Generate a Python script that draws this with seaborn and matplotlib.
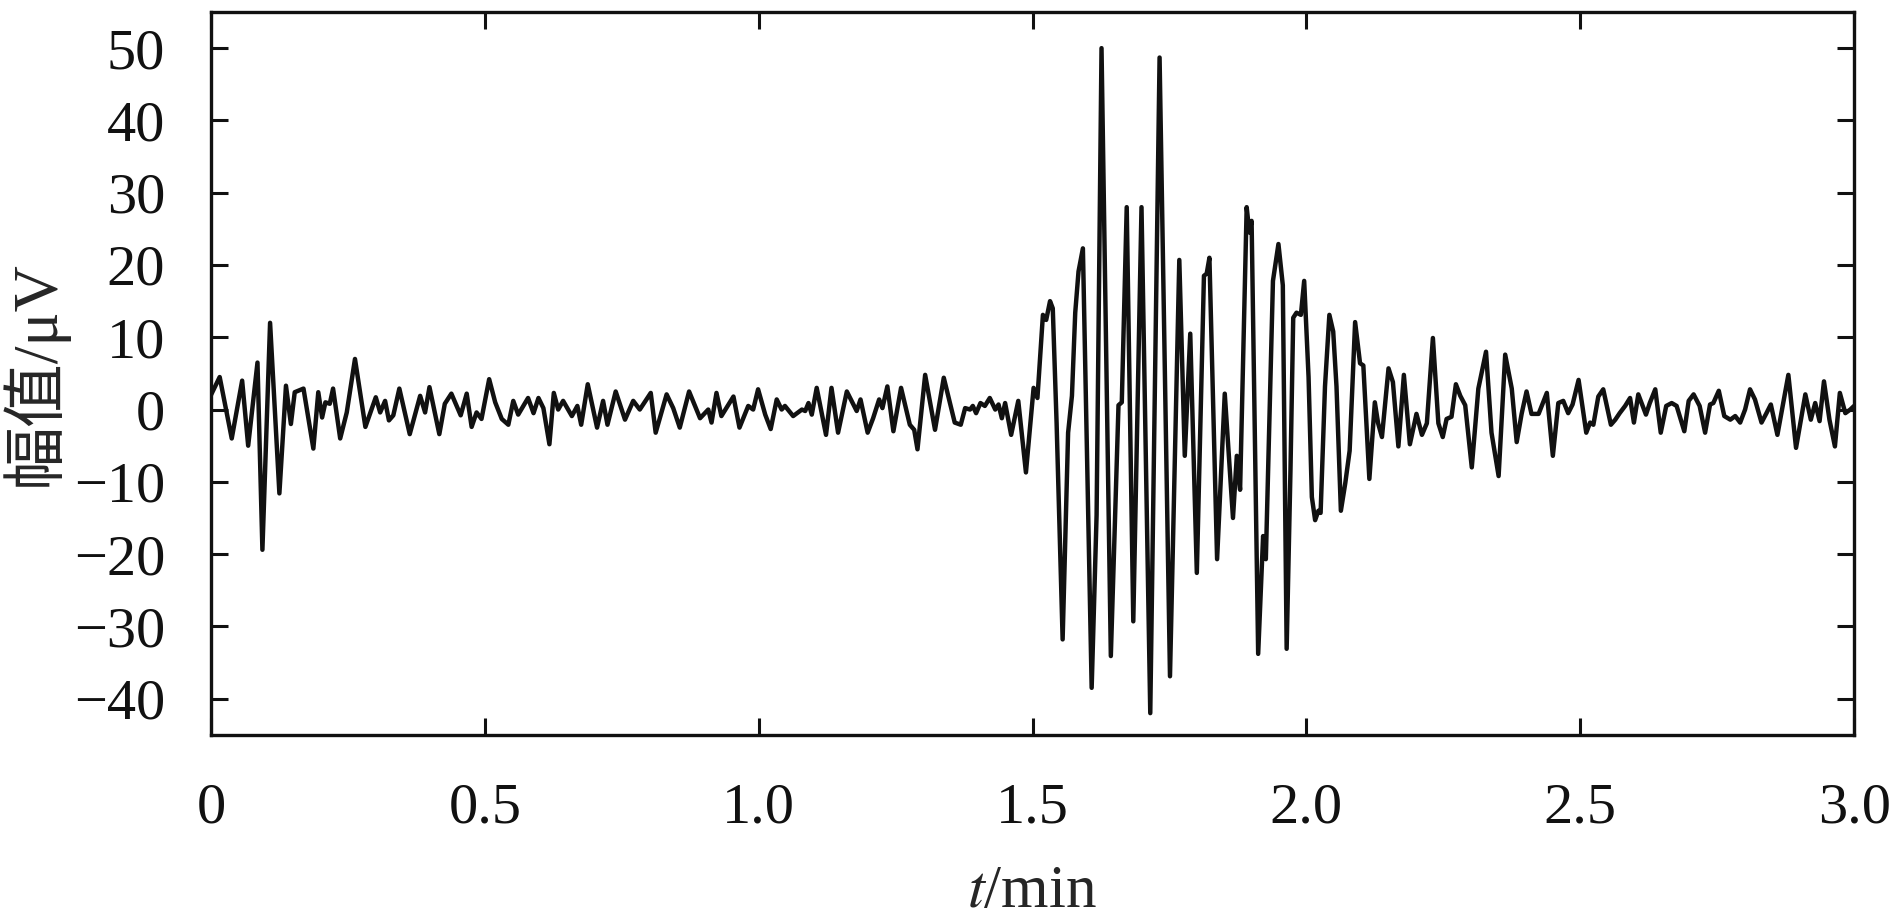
import numpy as np
import pandas as pd
import matplotlib
matplotlib.use("Agg")
import matplotlib.pyplot as plt
import seaborn as sns

# ============================
# Data (local peaks / troughs of the trace)
# ============================

t_quiet1 = [0.000, 0.016, 0.038, 0.057, 0.068, 0.085, 0.094, 0.108, 0.125, 0.137,
            0.146, 0.153, 0.169, 0.187, 0.196, 0.203, 0.209, 0.217, 0.223, 0.236,
            0.248, 0.263, 0.282, 0.301, 0.309, 0.318, 0.325, 0.333, 0.344, 0.363,
            0.382, 0.391, 0.399, 0.417, 0.427, 0.439, 0.456, 0.467, 0.476, 0.485,
            0.494, 0.508, 0.519, 0.531]
v_quiet1 = [2.0, 4.5, -4.0, 4.0, -5.0, 6.5, -19.4, 12.0, -11.6, 3.3,
            -2.0, 2.4, 2.9, -5.4, 2.4, -1.1, 1.0, 0.8, 2.9, -4.0,
            -0.4, 7.0, -2.4, 1.7, -0.4, 1.2, -1.5, -0.8, 2.9, -3.4,
            1.9, -0.4, 3.1, -3.4, 0.8, 2.2, -0.8, 2.2, -2.4, -0.4,
            -1.3, 4.2, 1.0, -1.3]

t_quiet2 = [0.543, 0.552, 0.561, 0.579, 0.589, 0.598, 0.607, 0.618, 0.626, 0.634,
            0.643, 0.659, 0.669, 0.676, 0.688, 0.705, 0.716, 0.724, 0.739, 0.756,
            0.771, 0.783, 0.803, 0.812, 0.832, 0.844, 0.856, 0.873, 0.893, 0.908,
            0.914, 0.923, 0.932, 0.954, 0.965, 0.981, 0.990, 0.999, 1.012, 1.022,
            1.033, 1.042, 1.048, 1.063]
v_quiet2 = [-2.1, 1.2, -0.7, 1.6, -0.5, 1.6, 0.2, -4.8, 2.3, 0.0,
            1.2, -0.9, 0.5, -2.1, 3.5, -2.5, 1.2, -2.1, 2.5, -1.4,
            1.2, 0.0, 2.3, -3.2, 2.1, 0.2, -2.5, 2.5, -1.2, 0.0,
            -1.8, 2.3, -0.9, 1.8, -2.5, 0.5, 0.0, 2.8, -0.7, -2.7,
            1.4, 0.0, 0.5, -0.9]

t_quiet3 = [1.079, 1.085, 1.091, 1.097, 1.106, 1.123, 1.133, 1.145, 1.161, 1.179,
            1.186, 1.199, 1.209, 1.220, 1.226, 1.235, 1.246, 1.260, 1.276, 1.284,
            1.290, 1.304, 1.322, 1.338, 1.358, 1.369, 1.377, 1.386, 1.391, 1.397,
            1.405, 1.413, 1.422, 1.432, 1.438, 1.444, 1.450, 1.461, 1.474, 1.488,
            1.502, 1.509]
v_quiet3 = [0.0, -0.2, 0.9, -0.7, 3.0, -3.5, 3.0, -3.2, 2.5, -0.2,
            1.4, -3.2, -1.2, 1.4, 0.2, 3.2, -3.0, 3.0, -2.1, -2.8,
            -5.5, 4.8, -2.8, 4.4, -1.8, -2.1, 0.2, 0.0, 0.5, -0.5,
            0.9, 0.5, 1.6, 0.0, 0.7, -1.2, 0.9, -3.5, 1.2, -8.7,
            3.0, 1.6]

t_burst = [1.519, 1.525, 1.532, 1.537, 1.544, 1.555, 1.565, 1.572, 1.578, 1.584,
           1.592, 1.608, 1.617, 1.626, 1.643, 1.657, 1.663, 1.672, 1.684, 1.699,
           1.715, 1.732, 1.751, 1.768, 1.778, 1.788, 1.800, 1.813, 1.818, 1.823,
           1.837, 1.851, 1.866, 1.873, 1.879, 1.891, 1.896, 1.900, 1.912, 1.921,
           1.926, 1.939, 1.949, 1.957, 1.964, 1.971, 1.976, 1.982, 1.990, 1.996,
           2.004, 2.010, 2.016, 2.022, 2.026, 2.034, 2.042, 2.049, 2.055, 2.063,
           2.071, 2.079, 2.089, 2.098, 2.104, 2.115]
v_burst = [13.1, 12.4, 15.0, 14.0, -1.9, -31.8, -3.2, 1.9, 13.4, 19.1,
           22.3, -38.5, -14.6, 50.0, -34.1, 0.6, 1.0, 28.0, -29.3, 28.0,
           -42.0, 48.7, -36.9, 20.7, -6.4, 10.5, -22.6, 18.5, 18.8, 21.0,
           -20.7, 2.2, -15.0, -6.4, -11.1, 28.0, 24.5, 26.1, -33.8, -17.5,
           -20.7, 17.8, 22.9, 17.2, -33.1, -8.3, 12.7, 13.4, 13.1, 17.8,
           4.5, -12.1, -15.3, -14.0, -14.3, 3.2, 13.1, 10.8, 3.2, -14.0,
           -10.2, -5.7, 12.1, 6.4, 6.1, -9.6]

t_tail1 = [2.125, 2.131, 2.138, 2.150, 2.158, 2.168, 2.178, 2.189, 2.201, 2.211,
           2.220, 2.231, 2.241, 2.249, 2.256, 2.265, 2.273, 2.281, 2.290, 2.302,
           2.314, 2.328, 2.338, 2.351, 2.363, 2.375, 2.384, 2.393, 2.402, 2.411,
           2.424]
v_tail1 = [1.0, -1.9, -3.8, 5.7, 3.8, -5.1, 4.8, -4.8, -0.6, -3.5,
           -1.9, 9.9, -1.9, -3.8, -1.3, -1.0, 3.5, 1.9, 0.6, -8.0,
           2.9, 8.0, -3.2, -9.2, 7.6, 2.9, -4.5, -0.6, 2.5, -0.6,
           -0.6]

t_tail2 = [2.439, 2.450, 2.460, 2.469, 2.478, 2.486, 2.497, 2.511, 2.518, 2.524,
           2.533, 2.542, 2.556, 2.564, 2.572, 2.582, 2.591, 2.598, 2.606, 2.612,
           2.620, 2.627, 2.637, 2.647, 2.657, 2.667, 2.676, 2.690, 2.698, 2.707,
           2.718, 2.728, 2.737, 2.743, 2.753, 2.763, 2.774, 2.783, 2.792, 2.801,
           2.810, 2.819, 2.831, 2.840, 2.848, 2.860, 2.880, 2.894, 2.911, 2.921,
           2.929, 2.937, 2.945, 2.955, 2.965, 2.974, 2.984, 2.993, 3.000]
v_tail2 = [2.3, -6.4, 0.9, 1.2, -0.5, 0.7, 4.1, -3.2, -1.8, -2.1,
           1.8, 2.8, -2.1, -1.4, -0.5, 0.5, 1.6, -1.8, 2.1, 0.9,
           -0.7, 0.9, 2.8, -3.2, 0.5, 0.9, 0.5, -3.0, 1.2, 2.1,
           0.5, -3.2, 0.7, 0.9, 2.6, -0.9, -1.4, -0.9, -1.8, 0.0,
           2.8, 1.4, -1.8, -0.5, 0.7, -3.5, 4.8, -5.3, 2.1, -1.4,
           0.9, -1.6, 3.9, -1.4, -5.1, 2.3, -0.5, 0.0, 0.5]

x_ticks = [0, 0.5, 1.0, 1.5, 2.0, 2.5, 3.0]
x_tick_labels = ["0", "0.5", "1.0", "1.5", "2.0", "2.5", "3.0"]
y_ticks = [-40, -30, -20, -10, 0, 10, 20, 30, 40, 50]

df = pd.DataFrame({
    "t": t_quiet1 + t_quiet2 + t_quiet3 + t_burst + t_tail1 + t_tail2,
    "amp": v_quiet1 + v_quiet2 + v_quiet3 + v_burst + v_tail1 + v_tail2,
})

# ============================
# Style
# ============================

sns.set_style("ticks")
plt.rcParams["font.family"] = ["Liberation Serif", "Noto Sans CJK SC", "DejaVu Sans"]
plt.rcParams["mathtext.fontset"] = "stix"
plt.rcParams["axes.linewidth"] = 2.4

# ============================
# Plot
# ============================

fig = plt.figure(figsize=(18.9, 9.22), dpi=100)
ax = fig.add_axes([0.1116, 0.203, 0.981 - 0.1116, 0.987 - 0.203])

sns.lineplot(data=df, x="t", y="amp", ax=ax, color="#111111", linewidth=3.2)

ax.set_xlim(0, 3.0)
ax.set_ylim(-45, 55)
ax.set_xticks(x_ticks)
ax.set_xticklabels(x_tick_labels)
ax.set_yticks(y_ticks)

ax.tick_params(axis="both", direction="in", top=True, right=True,
               length=12, width=2.2, labelsize=42, colors="#111111")
ax.tick_params(axis="x", pad=34)
ax.tick_params(axis="y", pad=33)

for s in ax.spines.values():
    s.set_visible(True)
    s.set_color("#111111")

ax.set_xlabel("$t$/min", fontsize=44, labelpad=22)
ax.set_ylabel("幅值/μV", fontsize=46, labelpad=4)

fig.savefig("out.png", dpi=100)
